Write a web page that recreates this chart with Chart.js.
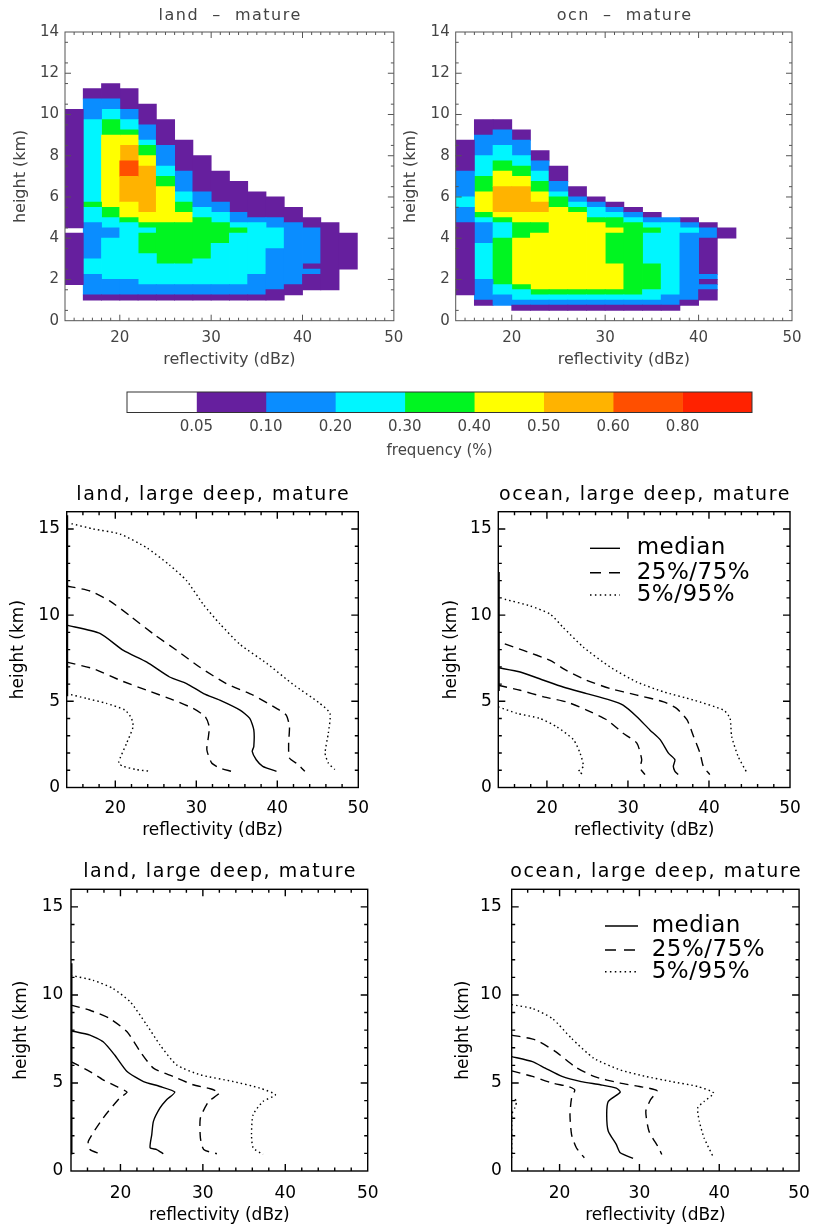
<!DOCTYPE html>
<html>
<head>
<meta charset="utf-8">
<script src="https://cdn.jsdelivr.net/npm/chart.js@4.4.1/dist/chart.umd.min.js"></script>
<style>
  body { margin: 0; background: #fff; width: 822px; height: 1228px; position: relative; overflow: hidden; }
  canvas { position: absolute; }
</style>
</head>
<body>
<canvas id="hLand"></canvas>
<canvas id="hOcn"></canvas>
<canvas id="cbar"></canvas>
<canvas id="midLand"></canvas>
<canvas id="midOcn"></canvas>
<canvas id="lowLand"></canvas>
<canvas id="lowOcn"></canvas>
<script>
// ---- frequency classes (colour bar) ----
const levelColors = ['#ffffff', '#661f9e', '#0a8dff', '#00f6ff', '#00f521', '#ffff00', '#ffb300', '#ff4f00', '#ff2200'];
const cbTicks = ['0.05', '0.10', '0.20', '0.30', '0.40', '0.50', '0.60', '0.80'];

// ---- CFADs: one column per 2 dBz bin from 14 dBz, runs of [bottom km, top km, class] ----
const heatX0 = 14;
const heatBin = 2;
const landHeat = [
  [[1.75, 4.25, 1], [4.5, 10.25, 1]],
  [[1, 1.25, 1], [1.25, 2.25, 2], [2.25, 3, 3], [3, 4.75, 2], [4.75, 5.5, 3], [5.5, 5.75, 4], [5.75, 9.75, 3], [9.75, 10.75, 2], [10.75, 11.25, 1]],
  [[1, 1.25, 1], [1.25, 2, 2], [2, 4, 3], [4, 4.5, 2], [4.5, 5, 3], [5, 5.5, 4], [5.5, 9, 5], [9, 9.75, 4], [9.75, 10.25, 3], [10.25, 10.75, 2], [10.75, 11.5, 1]],
  [[1, 1.25, 1], [1.25, 2, 2], [2, 4.75, 3], [4.75, 5, 4], [5, 5.75, 5], [5.75, 7, 6], [7, 7.75, 7], [7.75, 8.5, 6], [8.5, 9, 5], [9, 9.25, 4], [9.25, 9.75, 3], [9.75, 10.25, 2], [10.25, 11.25, 1]],
  [[1, 1.25, 1], [1.25, 1.75, 2], [1.75, 3.25, 3], [3.25, 4.25, 4], [4.25, 4.5, 3], [4.5, 4.75, 4], [4.75, 5.25, 5], [5.25, 7.5, 6], [7.5, 8, 5], [8, 8.5, 4], [8.5, 8.75, 3], [8.75, 9.5, 2], [9.5, 10.5, 1]],
  [[1, 1.25, 1], [1.25, 1.75, 2], [1.75, 2.75, 3], [2.75, 4.75, 4], [4.75, 6.5, 5], [6.5, 7, 4], [7, 7.5, 3], [7.5, 8.5, 2], [8.5, 9.75, 1]],
  [[1, 1.25, 1], [1.25, 1.75, 2], [1.75, 2.75, 3], [2.75, 4.75, 4], [4.75, 5.25, 5], [5.25, 5.75, 4], [5.75, 6.25, 3], [6.25, 7.25, 2], [7.25, 8.75, 1]],
  [[1, 1.25, 1], [1.25, 1.75, 2], [1.75, 3, 3], [3, 5, 4], [5, 5.5, 3], [5.5, 6.25, 2], [6.25, 8, 1]],
  [[1, 1.25, 1], [1.25, 1.75, 2], [1.75, 3.75, 3], [3.75, 4.75, 4], [4.75, 5.25, 3], [5.25, 5.75, 2], [5.75, 7.25, 1]],
  [[1, 1.25, 1], [1.25, 1.75, 2], [1.75, 4.25, 3], [4.25, 4.5, 4], [4.5, 4.75, 3], [4.75, 5.25, 2], [5.25, 6.75, 1]],
  [[1, 1.25, 1], [1.25, 2.25, 2], [2.25, 4.75, 3], [4.75, 5, 2], [5, 6.25, 1]],
  [[1, 1.5, 1], [1.5, 3.5, 2], [3.5, 4.5, 3], [4.5, 5, 2], [5, 6, 1]],
  [[1.25, 1.75, 1], [1.75, 4.75, 2], [4.75, 5.5, 1]],
  [[1.5, 2.25, 1], [2.25, 2.5, 2], [2.5, 2.75, 1], [2.75, 4.5, 2], [4.5, 5, 1]],
  [[1.5, 4.75, 1]],
  [[2.5, 4.25, 1]]
];
const oceanHeat = [
  [[1.25, 4.75, 1], [4.75, 5.5, 2], [5.5, 6, 3], [6, 7.25, 2], [7.25, 8.75, 1]],
  [[0.75, 1, 1], [1, 2, 2], [2, 3.75, 3], [3.75, 4.75, 2], [4.75, 5, 3], [5, 5.25, 4], [5.25, 6.25, 5], [6.25, 7, 4], [7, 8, 3], [8, 9, 2], [9, 9.75, 1]],
  [[0.75, 1.25, 2], [1.25, 1.75, 3], [1.75, 4, 4], [4, 4.75, 3], [4.75, 5, 4], [5, 5.25, 5], [5.25, 6.5, 6], [6.5, 7.25, 5], [7.25, 7.75, 4], [7.75, 8.5, 3], [8.5, 9.25, 2], [9.25, 9.75, 1]],
  [[0.5, 0.75, 1], [0.75, 1, 2], [1, 1.5, 3], [1.5, 1.75, 4], [1.75, 4, 5], [4, 4.75, 4], [4.75, 5.25, 5], [5.25, 6.5, 6], [6.5, 7, 5], [7, 7.5, 4], [7.5, 8, 3], [8, 8.75, 2], [8.75, 9.25, 1]],
  [[0.5, 0.75, 1], [0.75, 1, 2], [1, 1.25, 3], [1.25, 1.5, 4], [1.5, 4.25, 5], [4.25, 4.75, 4], [4.75, 5.25, 5], [5.25, 5.75, 6], [5.75, 6.25, 5], [6.25, 6.75, 4], [6.75, 7.25, 3], [7.25, 7.75, 2], [7.75, 8.25, 1]],
  [[0.5, 0.75, 1], [0.75, 1, 2], [1, 1.25, 3], [1.25, 1.5, 4], [1.5, 5.5, 5], [5.5, 6, 4], [6, 6.25, 3], [6.25, 6.75, 2], [6.75, 7.5, 1]],
  [[0.5, 0.75, 1], [0.75, 1, 2], [1, 1.25, 3], [1.25, 1.5, 4], [1.5, 5.25, 5], [5.25, 5.5, 4], [5.5, 5.75, 3], [5.75, 6, 2], [6, 6.5, 1]],
  [[0.5, 0.75, 1], [0.75, 1, 2], [1, 1.25, 3], [1.25, 1.5, 4], [1.5, 4.75, 5], [4.75, 5, 4], [5, 5.5, 3], [5.5, 5.75, 2], [5.75, 6, 1]],
  [[0.5, 0.75, 1], [0.75, 1, 2], [1, 1.25, 3], [1.25, 1.5, 4], [1.5, 2.75, 5], [2.75, 4.25, 4], [4.25, 4.5, 5], [4.5, 5, 4], [5, 5.25, 3], [5.25, 5.5, 2], [5.5, 5.75, 1]],
  [[0.5, 0.75, 1], [0.75, 1, 2], [1, 1.25, 3], [1.25, 4.75, 4], [4.75, 5, 3], [5, 5.25, 2], [5.25, 5.5, 1]],
  [[0.5, 0.75, 1], [0.75, 1, 2], [1, 1.5, 3], [1.5, 2.75, 4], [2.75, 4.25, 3], [4.25, 4.5, 4], [4.5, 4.75, 3], [4.75, 5, 2], [5, 5.25, 1]],
  [[0.5, 0.75, 1], [0.75, 1.25, 2], [1.25, 4.75, 3], [4.75, 5, 2]],
  [[0.75, 1, 1], [1, 4.25, 2], [4.25, 4.5, 3], [4.5, 4.75, 2], [4.75, 5, 1]],
  [[1, 1.5, 1], [1.5, 1.75, 2], [1.75, 2, 1], [2, 2.25, 2], [2.25, 4, 1], [4, 4.5, 2], [4.5, 4.75, 1]],
  [[4, 4.5, 1]]
];

// ---- reflectivity percentiles, [dBz, km] ----
const midLandMedian = [[14.0, 9.42], [18.1, 8.94], [21.0, 7.95], [23.9, 7.27], [26.7, 6.41], [28.8, 6.03], [30.9, 5.45], [32.9, 5.07], [35.4, 4.49], [36.6, 4.01], [37.1, 3.34], [37.1, 2.38], [36.9, 2.09], [37.4, 1.61], [38.2, 1.23], [39.9, 0.94]];
const midLandQ25 = [[14.0, 7.27], [17.3, 6.89], [20.6, 6.22], [23.9, 5.64], [27.2, 5.07], [29.6, 4.59], [31.1, 4.11], [31.6, 3.53], [31.5, 2.96], [31.3, 2.19], [31.9, 1.42], [32.9, 1.13], [34.3, 0.94]];
const midLandQ75 = [[14.0, 11.69], [16.9, 11.4], [19.3, 10.83], [21.8, 9.96], [24.7, 8.91], [27.6, 7.95], [30.4, 6.99], [33.7, 6.03], [37.0, 5.36], [39.9, 4.59], [41.1, 4.2], [41.5, 3.53], [41.4, 2.57], [41.5, 1.71], [42.6, 1.32], [43.4, 0.94]];
const midLandP05 = [[14.0, 5.45], [16.5, 5.16], [18.9, 4.88], [21.2, 4.49], [22.0, 4.01], [22.2, 3.53], [21.4, 2.57], [20.4, 1.42], [21.0, 1.23], [22.6, 1.04], [24.3, 0.94]];
const midLandP95 = [[14.6, 15.3], [17.3, 15.0], [20.6, 14.7], [23.9, 13.9], [26.7, 12.9], [28.8, 12.0], [30.9, 10.6], [32.9, 9.5], [35.4, 8.3], [38.7, 7.2], [41.9, 6.0], [45.2, 4.9], [46.5, 4.3], [46.3, 3.15], [45.9, 2.0], [46.3, 1.42], [47.1, 1.04]];
const midLandEdge = [[14, 5.3], [14, 15.8]];

const midOcnMedian = [[14.0, 6.95], [16.7, 6.70], [19.6, 6.22], [22.0, 5.83], [24.9, 5.45], [27.8, 5.07], [29.4, 4.78], [31.1, 4.11], [32.7, 3.34], [34.0, 2.76], [35.0, 1.99], [35.8, 1.61], [35.6, 1.23], [35.8, 0.94], [36.2, 0.75]];
const midOcnQ25 = [[14.0, 5.93], [16.7, 5.64], [19.6, 5.26], [22.4, 4.97], [24.9, 4.49], [27.4, 3.92], [29.4, 3.15], [31.1, 2.57], [31.7, 1.61], [31.5, 1.13], [32.1, 0.75]];
const midOcnQ75 = [[14.8, 8.33], [17.1, 7.95], [20.4, 7.37], [22.4, 6.79], [24.9, 6.22], [27.8, 5.74], [31.1, 5.36], [34.4, 4.97], [36.0, 4.59], [37.3, 3.92], [38.1, 2.96], [38.9, 1.99], [39.3, 1.23], [40.1, 0.75]];
const midOcnP05 = [[14.0, 4.68], [16.3, 4.30], [19.1, 4.01], [21.2, 3.53], [23.3, 2.76], [24.1, 1.99], [24.5, 1.23], [23.9, 0.94], [24.5, 0.75]];
const midOcnP95 = [[14.8, 10.92], [17.9, 10.54], [20.4, 10.06], [22.0, 9.29], [24.5, 8.14], [27.8, 6.99], [31.1, 6.12], [34.4, 5.55], [38.1, 5.07], [41.8, 4.49], [42.6, 4.01], [42.8, 2.96], [43.6, 1.80], [44.7, 0.84]];
const midOcnEdge = [[14, 5.6], [14, 12.5]];

const lowLandMedian = [[14.0, 7.97], [16.3, 7.72], [17.9, 7.34], [19.3, 6.59], [20.8, 5.65], [22.8, 5.08], [24.8, 4.80], [26.6, 4.48], [25.6, 4.05], [24.8, 3.58], [24.0, 2.82], [23.8, 2.07], [23.6, 1.32], [24.4, 1.22], [25.2, 0.98]];
const lowLandQ25 = [[14.0, 6.21], [16.3, 5.65], [17.9, 5.18], [19.5, 4.80], [20.8, 4.48], [19.9, 4.14], [17.9, 3.01], [16.1, 1.69], [16.3, 1.22], [17.5, 0.98]];
const lowLandQ75 = [[14.0, 9.42], [16.3, 9.13], [18.7, 8.66], [20.8, 7.91], [22.4, 6.78], [24.0, 5.84], [26.4, 5.37], [28.8, 4.90], [30.9, 4.67], [32.0, 4.43], [30.7, 3.95], [29.7, 3.01], [29.7, 1.88], [30.1, 1.22], [31.7, 0.98]];
const lowLandP05 = [[14, 0.98], [14, 11.75]];
const lowLandP95 = [[14.0, 11.11], [16.7, 10.83], [19.1, 10.36], [21.2, 9.60], [23.2, 8.29], [24.8, 7.16], [26.8, 6.03], [29.7, 5.46], [33.7, 5.08], [36.9, 4.71], [38.8, 4.33], [37.3, 3.95], [36.1, 3.20], [35.9, 2.07], [36.1, 1.32], [37.3, 0.94]];
const lowLandEdge = [[14, 0.94], [14, 11.8]];

const lowOcnMedian = [[14.0, 6.50], [16.6, 6.21], [18.2, 5.84], [20.3, 5.37], [22.7, 5.08], [25.1, 4.90], [27.1, 4.71], [27.6, 4.48], [26.1, 3.95], [25.9, 3.20], [26.1, 2.26], [27.1, 1.51], [27.6, 1.04], [29.2, 0.72]];
const lowOcnQ25 = [[14.0, 5.69], [16.6, 5.37], [19.1, 4.99], [21.1, 4.80], [21.9, 4.61], [21.5, 4.14], [21.3, 3.20], [21.5, 2.07], [22.1, 1.32], [23.1, 0.75]];
const lowOcnQ75 = [[14.0, 7.72], [17.0, 7.44], [19.5, 6.78], [21.9, 5.93], [24.3, 5.37], [27.6, 4.99], [30.0, 4.80], [32.2, 4.56], [31.4, 4.05], [30.8, 3.39], [31.2, 2.26], [32.4, 1.32], [32.8, 0.94]];
const lowOcnP05 = [[14.0, 0.75], [14.0, 3.2], [14.4, 3.6], [14.6, 3.95], [14.2, 4.2]];
const lowOcnP95 = [[14.0, 9.45], [16.6, 9.23], [19.1, 8.66], [21.5, 7.53], [24.3, 6.40], [27.6, 5.74], [30.8, 5.37], [34.0, 5.08], [37.3, 4.80], [39.3, 4.43], [38.1, 3.95], [37.3, 3.58], [37.5, 2.82], [38.1, 1.88], [39.3, 0.75]];

Chart.defaults.font.family = "'DejaVu Sans', sans-serif";

const solid = { borderDash: [] };
const dashed = { borderDash: [9, 6] };
const dotted = { borderDash: [1.5, 3] };
const legendItems = [
  { label: 'median', dash: [] },
  { label: '25%/75%', dash: [11, 8] },
  { label: '5%/95%', dash: [1.5, 3.4] }
];

// box with inward ticks on all four sides, like the original plots
const idlAxes = {
  id: 'idlAxes',
  afterDatasetsDraw(chart, args, o) {
    const { ctx, chartArea: a, scales: { x, y } } = chart;
    ctx.save();
    ctx.strokeStyle = o.color;
    ctx.lineWidth = o.width;
    ctx.beginPath();
    const xt = (vals, len) => vals.forEach(v => {
      const px = x.getPixelForValue(v);
      ctx.moveTo(px, a.bottom); ctx.lineTo(px, a.bottom - len);
      ctx.moveTo(px, a.top); ctx.lineTo(px, a.top + len);
    });
    const yt = (vals, len) => vals.forEach(v => {
      const py = y.getPixelForValue(v);
      ctx.moveTo(a.left, py); ctx.lineTo(a.left + len, py);
      ctx.moveTo(a.right, py); ctx.lineTo(a.right - len, py);
    });
    if (o.xMajor) { xt(o.xMajor, o.majorLen); xt(o.xMinor, o.minorLen); }
    if (o.yMajor) { yt(o.yMajor, o.majorLen); yt(o.yMinor, o.minorLen); }
    ctx.stroke();
    ctx.strokeRect(a.left, a.top, a.right - a.left, a.bottom - a.top);
    ctx.restore();
  }
};

const panelTitle = {
  id: 'panelTitle',
  afterDraw(chart, args, o) {
    if (!o.text) return;
    const { ctx, chartArea: a } = chart;
    ctx.save();
    ctx.font = o.font;
    ctx.fillStyle = o.color;
    ctx.letterSpacing = o.spacing + 'px';
    ctx.textAlign = 'center';
    ctx.textBaseline = 'middle';
    ctx.fillText(o.text, (a.left + a.right) / 2 + o.spacing / 2, o.y);
    ctx.restore();
  }
};

const lineLegend = {
  id: 'lineLegend',
  afterDatasetsDraw(chart, args, o) {
    if (!o.items) return;
    const ctx = chart.ctx;
    ctx.save();
    o.items.forEach((it, i) => {
      const yy = o.y[i];
      ctx.strokeStyle = '#000';
      ctx.lineWidth = 1.4;
      ctx.setLineDash(it.dash);
      ctx.beginPath();
      ctx.moveTo(o.x0, yy);
      ctx.lineTo(o.x1, yy);
      ctx.stroke();
      ctx.setLineDash([]);
      ctx.font = o.font;
      ctx.letterSpacing = '0.5px';
      ctx.fillStyle = '#000';
      ctx.textBaseline = 'middle';
      ctx.fillText(it.label, o.tx, yy);
    });
    ctx.restore();
  }
};

Chart.register(idlAxes, panelTitle, lineLegend);

function range(a, b, step, skip) {
  const out = [];
  for (let v = a; v <= b + 1e-9; v += step) {
    if (!skip || skip.indexOf(Math.round(v * 100) / 100) < 0) out.push(Math.round(v * 100) / 100);
  }
  return out;
}

function setup(id, rect) {
  const c = document.getElementById(id);
  c.width = rect[2];
  c.height = rect[3];
  c.style.left = rect[0] + 'px';
  c.style.top = rect[1] + 'px';
  c.style.width = rect[2] + 'px';
  c.style.height = rect[3] + 'px';
  return c;
}

// p: rect [left, top, w, h], area [L, T, R, B], and text positions in page px
function panelOptions(p) {
  const [cl, ct, cw, ch] = p.rect;
  const [L, T, R, B] = p.area;
  const tlh = p.tickSize * 1.2;
  const alh = p.axisSize * 1.2;
  return {
    responsive: false,
    animation: false,
    devicePixelRatio: 1,
    layout: { padding: { left: 0, top: T - ct, right: cl + cw - R, bottom: 0 } },
    plugins: {
      legend: { display: false },
      tooltip: { enabled: false },
      title: { display: false },
      panelTitle: { text: p.title, y: p.titleY - ct, font: p.titleFont, color: p.color, spacing: p.titleSpacing },
      idlAxes: p.axes,
      lineLegend: p.legend ? {
        items: legendItems, x0: p.legend.x0 - cl, x1: p.legend.x1 - cl, tx: p.legend.tx - cl,
        y: p.legend.y.map(v => v - ct), font: p.legend.font
      } : {}
    },
    scales: {
      x: {
        type: 'linear', min: 14, max: 50, offset: false,
        grid: { display: false, drawTicks: false }, border: { display: false },
        afterBuildTicks: s => { s.ticks = [20, 30, 40, 50].map(v => ({ value: v })); },
        afterFit: s => { s.height = ct + ch - B; },
        ticks: { padding: p.xTickY - B - tlh / 2, font: { size: p.tickSize }, color: p.color, maxRotation: 0, autoSkip: false },
        title: { display: true, text: 'reflectivity (dBz)', color: p.color, font: { size: p.axisSize },
          padding: { top: 0, bottom: (ct + ch - p.xTitleY) - alh / 2 } }
      },
      y: {
        type: 'linear', min: 0, max: p.yMax,
        grid: { display: false, drawTicks: false }, border: { display: false },
        afterBuildTicks: s => { s.ticks = p.yLabels.map(v => ({ value: v })); },
        afterFit: s => { s.width = L - cl; },
        ticks: { padding: p.yGap, font: { size: p.tickSize }, color: p.color, autoSkip: false },
        title: { display: true, text: 'height (km)', color: p.color, font: { size: p.axisSize },
          padding: { top: p.yTitleX - cl - alh / 2, bottom: 0 } }
      }
    }
  };
}

// ---- CFAD panels ----
function heatDatasets(cols) {
  const sets = [];
  cols.forEach((segs, i) => {
    const xc = heatX0 + heatBin * i + heatBin / 2;
    segs.forEach((s, k) => {
      if (!sets[k]) {
        sets[k] = { data: [], backgroundColor: [], borderWidth: 0, grouped: false,
          barPercentage: 1, categoryPercentage: 1, inflateAmount: 0.4 };
      }
      sets[k].data.push({ x: xc, y: [s[0], s[1]] });
      sets[k].backgroundColor.push(levelColors[s[2]]);
    });
  });
  return sets;
}

const heatAxes = {
  color: '#555', width: 1, majorLen: 6, minorLen: 3,
  xMajor: [20, 30, 40], xMinor: range(15, 49, 1, [20, 30, 40]),
  yMajor: range(2, 12, 2), yMinor: range(0.5, 13.5, 1)
};
const heatText = {
  tickSize: 15, axisSize: 16, color: '#444', titleFont: "16px 'DejaVu Sans'", titleSpacing: 1.5,
  titleY: 16, xTickY: 338.3, xTitleY: 359.5, yMax: 14, yLabels: range(0, 14, 2), axes: heatAxes
};

function heatChart(id, rect, area, title, cols, yTitleX, yGap) {
  const p = Object.assign({}, heatText, { rect, area, title, yTitleX, yGap });
  new Chart(setup(id, rect), {
    type: 'bar',
    data: { datasets: heatDatasets(cols) },
    options: panelOptions(p)
  });
}

heatChart('hLand', [0, 0, 412, 372], [65, 32, 400.7, 320.7], 'land  \u2013  mature', landHeat, 20.7, 6);
heatChart('hOcn', [400, 0, 422, 372], [455.7, 32, 792, 320.7], 'ocn  \u2013  mature', oceanHeat, 411, 6);

// ---- colour bar ----
new Chart(setup('cbar', [100, 382, 680, 86]), {
  type: 'bar',
  data: {
    labels: [''],
    datasets: levelColors.map(c => ({ data: [1], backgroundColor: c, borderWidth: 0, barPercentage: 1, categoryPercentage: 1 }))
  },
  options: {
    indexAxis: 'y',
    responsive: false,
    animation: false,
    devicePixelRatio: 1,
    layout: { padding: { left: 27, right: 28, top: 10, bottom: 0 } },
    plugins: { legend: { display: false }, tooltip: { enabled: false }, idlAxes: { color: '#333', width: 1 } },
    scales: {
      x: {
        stacked: true, min: 0, max: 9,
        grid: { display: false, drawTicks: false }, border: { display: false },
        afterBuildTicks: s => { s.ticks = cbTicks.map((t, i) => ({ value: i + 1 })); },
        afterFit: s => { s.height = 468 - 412.5; },
        ticks: { padding: 6, font: { size: 15 }, color: '#444', maxRotation: 0, autoSkip: false,
          callback: v => cbTicks[v - 1] },
        title: { display: true, text: 'frequency (%)', color: '#444', font: { size: 15 }, padding: { top: 0, bottom: 8 } }
      },
      y: { stacked: true, display: false }
    }
  }
});

// ---- percentile profile panels ----
function curve(pts, style, width) {
  return Object.assign({
    data: pts.map(p => ({ x: p[0], y: p[1] })),
    showLine: true, pointRadius: 0, borderColor: '#000', borderWidth: width || 1.4,
    tension: 0.2, fill: false
  }, style);
}

const profAxes = {
  color: '#000', width: 1.4, majorLen: 7, minorLen: 3.5,
  xMajor: [20, 30, 40], xMinor: range(16, 48, 2, [20, 30, 40]),
  yMajor: [5, 10, 15], yMinor: range(1, 15, 1, [5, 10, 15])
};
const profText = {
  tickSize: 17, axisSize: 17, color: '#000', titleFont: "19px 'DejaVu Sans'", titleSpacing: 1.6,
  yMax: 16, yLabels: [0, 5, 10, 15], axes: profAxes
};

function profChart(id, rect, area, title, text, sets, legend) {
  const p = Object.assign({}, profText, text, { rect, area, title, legend });
  new Chart(setup(id, rect), {
    type: 'scatter',
    data: { datasets: sets },
    options: panelOptions(p)
  });
}

profChart('midLand', [0, 470, 400, 380], [66.7, 511.7, 358.3, 787.5], 'land, large deep, mature',
  { titleY: 495, xTickY: 808.3, xTitleY: 830.7, yTitleX: 19, yGap: 6.7 },
  [curve(midLandEdge, solid, 3), curve(midLandMedian, solid), curve(midLandQ25, dashed), curve(midLandQ75, dashed),
   curve(midLandP05, dotted), curve(midLandP95, dotted)]);

profChart('midOcn', [420, 470, 402, 380], [498.3, 511.7, 790, 787.5], 'ocean, large deep, mature',
  { titleY: 495, xTickY: 808.3, xTitleY: 830.7, yTitleX: 451.7, yGap: 6.6 },
  [curve(midOcnEdge, solid, 3), curve(midOcnMedian, solid), curve(midOcnQ25, dashed), curve(midOcnQ75, dashed),
   curve(midOcnP05, dotted), curve(midOcnP95, dotted)],
  { x0: 590, x1: 620, tx: 636.7, y: [548.3, 572.7, 595], font: "23px 'DejaVu Sans'" });

profChart('lowLand', [0, 850, 400, 378], [71, 889.3, 367.7, 1171], 'land, large deep, mature',
  { titleY: 871.7, xTickY: 1193.3, xTitleY: 1215.7, yTitleX: 21.7, yGap: 7.7 },
  [curve(lowLandEdge, solid, 3), curve(lowLandMedian, solid), curve(lowLandQ25, dashed), curve(lowLandQ75, dashed),
   curve(lowLandP05, dotted), curve(lowLandP95, dotted)]);

profChart('lowOcn', [420, 850, 402, 378], [511.7, 889.3, 808.3, 1171], 'ocean, large deep, mature',
  { titleY: 871.7, xTickY: 1193.3, xTitleY: 1215.7, yTitleX: 463.3, yGap: 10 },
  [curve(lowOcnMedian, solid), curve(lowOcnQ25, dashed), curve(lowOcnQ75, dashed),
   curve(lowOcnP05, dotted), curve(lowOcnP95, dotted)],
  { x0: 605, x1: 638, tx: 651.7, y: [926, 950, 971.7], font: "23px 'DejaVu Sans'" });
</script>
</body>
</html>
